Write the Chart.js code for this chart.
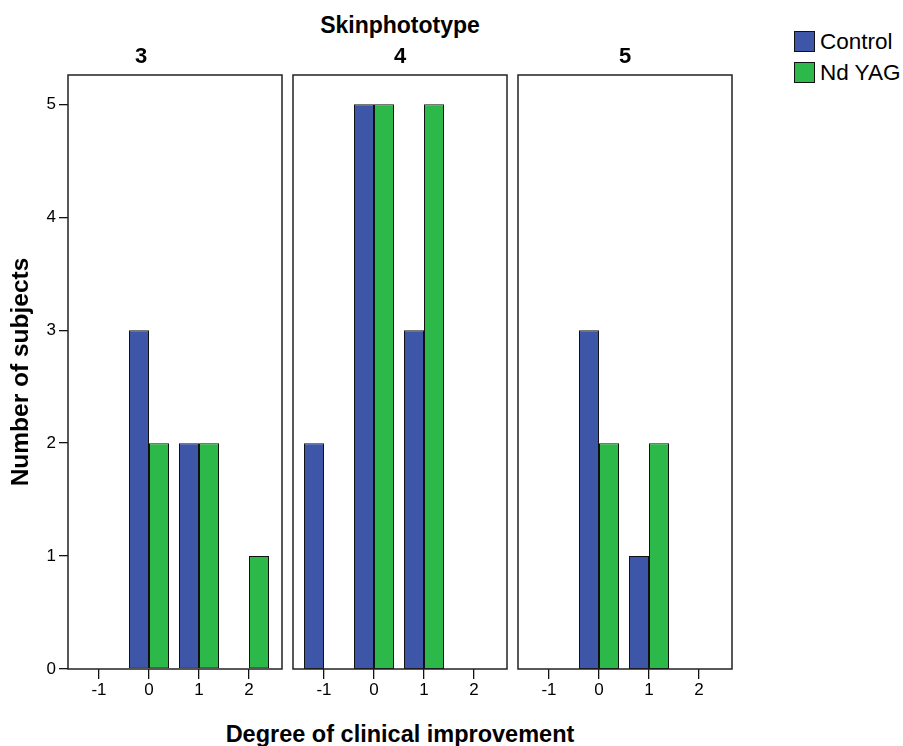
<!DOCTYPE html>
<html><head><meta charset="utf-8">
<script src="https://cdn.jsdelivr.net/npm/chart.js@4/dist/chart.umd.min.js"></script>
<style>
body{margin:0;background:#fff;width:903px;height:746px;position:relative;overflow:hidden;font-family:"Liberation Sans",Arial,sans-serif;}
canvas{position:absolute;top:0}
.t{position:absolute;font-weight:bold;color:#000;white-space:nowrap;transform:translate(-50%,-50%)}
.lg{position:absolute;left:794px;width:19px;height:19px;border:1px solid #111}
.lt{position:absolute;left:820px;font-size:22.5px;color:#000;transform:translateY(-50%);white-space:nowrap}
</style>
</head><body>
<div class="t" style="left:400px;top:25px;font-size:23px">Skinphototype</div>
<div class="t" style="left:400px;top:734px;font-size:23.5px">Degree of clinical improvement</div>
<div class="lg" style="top:31px;background:#3e56a8"></div><div class="lt" style="top:42px">Control</div>
<div class="lg" style="top:62px;background:#2db84a"></div><div class="lt" style="top:73px">Nd YAG</div>
<canvas id="c1" width="290" height="708" style="left:0px"></canvas>
<canvas id="c2" width="230" height="708" style="left:285px"></canvas>
<canvas id="c3" width="230" height="708" style="left:510px"></canvas>
<script>
const categories = [-1, 0, 1, 2];
const phototypes = ['3', '4', '5'];
const seriesNames = ['Control', 'Nd YAG'];
const control3 = [0, 3, 2, 0];
const ndyag3   = [0, 2, 2, 1];
const control4 = [2, 5, 3, 0];
const ndyag4   = [0, 5, 5, 0];
const control5 = [0, 3, 1, 0];
const ndyag5   = [0, 2, 2, 0];
const yTicks = [0, 1, 2, 3, 4, 5];

const FONT = '"Liberation Sans", Arial, sans-serif';
const BLUE = '#3e56a8', GREEN = '#2db84a';
Chart.defaults.font.family = FONT;
Chart.defaults.color = '#000';

const boxPlugin = {
  id: 'panelBox',
  afterDraw(chart) {
    const {ctx, chartArea: a} = chart;
    ctx.save();
    ctx.strokeStyle = '#222';
    ctx.lineWidth = 1.5;
    ctx.strokeRect(a.left, a.top, a.right - a.left, a.bottom - a.top);
    ctx.restore();
  }
};

function pts(vals) { return categories.map((c, i) => ({x: c, y: vals[i]})); }

function makePanel(id, title, ctrl, nd, showY) {
  const ds = (label, vals, color) => ({
    label, data: pts(vals), backgroundColor: color,
    borderColor: '#111',
    borderWidth: c => (c.raw && c.raw.y === 0) ? 0 : 1,
    borderSkipped: false,
    categoryPercentage: 0.8, barPercentage: 1.0
  });
  new Chart(document.getElementById(id), {
    type: 'bar',
    data: { datasets: [ds(seriesNames[0], ctrl, BLUE), ds(seriesNames[1], nd, GREEN)] },
    options: {
      responsive: false, animation: false,
      layout: { padding: { left: showY ? 0 : 8, right: 8, top: 0, bottom: 0 } },
      plugins: {
        legend: { display: false }, tooltip: { enabled: false },
        title: { display: true, text: title, color: '#000',
          font: { family: FONT, size: 22, weight: 'bold' },
          padding: { top: 43.8, bottom: 4.8 } }
      },
      scales: {
        x: {
          type: 'linear', min: -1.62, max: 2.66, offset: false,
          afterBuildTicks: s => { s.ticks = categories.map(v => ({value: v})); },
          afterFit: s => { s.height = 39; },
          grid: { offset: false, drawOnChartArea: false, drawTicks: true, tickLength: 10, color: '#111', lineWidth: 1.3 },
          border: { display: false },
          ticks: { color: '#000', font: { family: FONT, size: 17 }, padding: 1, maxRotation: 0 }
        },
        y: {
          display: showY, min: 0, max: 5.26,
          afterBuildTicks: s => { s.ticks = yTicks.map(v => ({value: v})); },
          afterFit: s => { s.width = showY ? 68 : 0; },
          grid: { drawOnChartArea: false, drawTicks: true, tickLength: 9, color: '#111', lineWidth: 1.3 },
          border: { display: false },
          ticks: { color: '#000', font: { family: FONT, size: 17 }, padding: 3 },
          title: { display: true, text: 'Number of subjects', color: '#000',
            font: { family: FONT, size: 24.5, weight: 'bold' }, padding: { top: 7, bottom: 0 } }
        }
      }
    },
    plugins: [boxPlugin]
  });
}

makePanel('c1', phototypes[0], control3, ndyag3, true);
makePanel('c2', phototypes[1], control4, ndyag4, false);
makePanel('c3', phototypes[2], control5, ndyag5, false);
</script>
</body></html>
